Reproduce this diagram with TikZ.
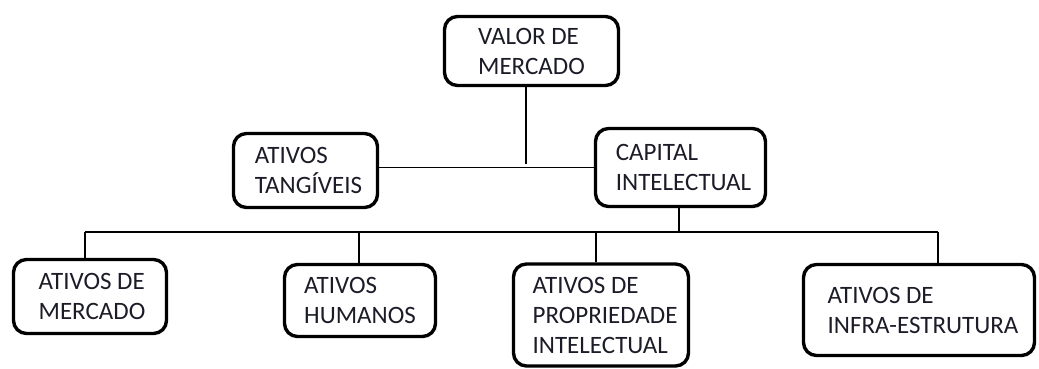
\documentclass[tikz,border=0pt]{standalone}
\usepackage{fontspec}
\setmainfont{Carlito}
\definecolor{txt}{RGB}{28,28,40}
\begin{document}
\begin{tikzpicture}[x=1pt,y=-1pt,
  box/.style={draw=black, line width=3.4pt, rounded corners=13pt, align=left,
    text=txt, font=\fontsize{25}{30}\selectfont, inner sep=0pt},
  conn/.style={draw=black, line width=1.3pt}]
\useasboundingbox (0,0) rectangle (1039,369);
\node[box, minimum width=174pt, minimum height=69pt] (valor) at (531.5,51) {VALOR DE\\MERCADO};
\node[box, minimum width=144pt, minimum height=74pt] (tang) at (305.5,170.5) {\hspace*{6pt}ATIVOS\\\hspace*{6pt}TANGÍVEIS};
\node[box, minimum width=170pt, minimum height=78pt] (cap) at (680.5,167.5) {\hspace*{6pt}CAPITAL\\\hspace*{6pt}INTELECTUAL};
\node[box, minimum width=153pt, minimum height=74pt] (merc) at (90,296.5) {\hspace*{4pt}ATIVOS DE\\\hspace*{4pt}MERCADO};
\node[box, minimum width=151pt, minimum height=72pt] (hum) at (360,300.5) {ATIVOS\\HUMANOS};
\node[box, minimum width=175pt, minimum height=102pt] (prop) at (601,315) {\hspace*{8pt}ATIVOS DE\\\hspace*{8pt}PROPRIEDADE\\\hspace*{8pt}INTELECTUAL};
\node[box, minimum width=231pt, minimum height=91pt] (infra) at (919,310) {\hspace*{8pt}ATIVOS DE\\\hspace*{8pt}INFRA-ESTRUTURA};
% upper connectors
\coordinate (j1) at (526,164);
\draw[conn] (valor.south -| j1) -- (j1);
\draw[conn] (tang.east |- cap.west) -- (cap.west);
% bus
\coordinate (b1) at (85,232);
\coordinate (b2) at (359,232);
\coordinate (b3) at (596,232);
\coordinate (b4) at (938,232);
\coordinate (bc) at (679,232);
\draw[conn] (cap.south -| bc) -- (bc);
\draw[conn] (b1) -- (b4);
\draw[conn] (b1) -- (b1 |- merc.north);
\draw[conn] (b2) -- (b2 |- hum.north);
\draw[conn] (b3) -- (b3 |- prop.north);
\draw[conn] (b4) -- (b4 |- infra.north);
\end{tikzpicture}
\end{document}
